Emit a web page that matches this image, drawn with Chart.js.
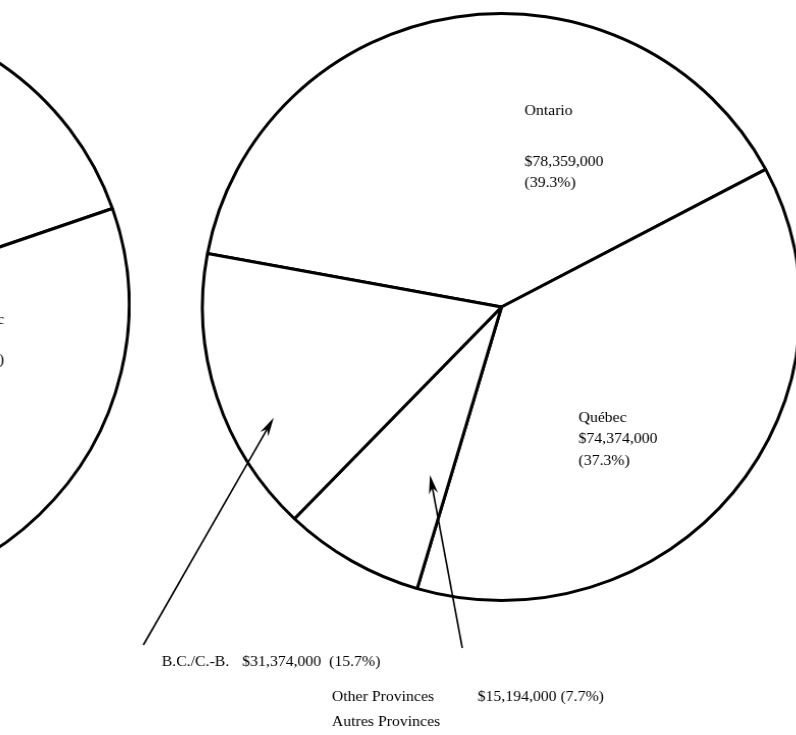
<!DOCTYPE html>
<html>
<head>
<meta charset="utf-8">
<script src="https://cdn.jsdelivr.net/npm/chart.js@4.4.1/dist/chart.umd.min.js"></script>
<style>
html,body{margin:0;padding:0;background:#fff;overflow:hidden}
#wrap{position:relative;width:796px;height:735px;overflow:hidden;background:#fff}
/* the scanned pies are a touch wider than tall */
#mainChart{position:absolute;left:3px;top:0;transform:scaleX(1.019);transform-origin:498px 0}
#leftChart{position:absolute;left:-465px;top:10px;transform:scaleX(1.019);transform-origin:295px 0}
</style>
</head>
<body>
<div id="wrap">
  <canvas id="leftChart" width="590" height="590"></canvas>
  <canvas id="mainChart" width="796" height="735"></canvas>
</div>
<script>
// slices, clockwise from the Ontario/B.C. edge
const categories = ['Ontario', 'Québec', 'Other Provinces', 'B.C./C.-B.'];
const amounts = [78359000, 74374000, 15194000, 31374000];
const percents = ['39.3%', '37.3%', '7.7%', '15.7%'];
// pie cut off by the left edge; only one edge shows, shares are a guess
const leftShares = [40, 36, 8, 16];

const FONT = '15.5px "Liberation Serif", "DejaVu Serif", serif';
const fmt = n => '$' + n.toLocaleString('en-US');

function $(id){return document.getElementById(id)}

function drawArrow(ctx, x0, y0, x1, y1){
  const ang = Math.atan2(y1 - y0, x1 - x0);
  const cx = Math.cos(ang), sy = Math.sin(ang);
  ctx.beginPath();
  ctx.moveTo(x0, y0);
  ctx.lineTo(x1 - cx * 10, y1 - sy * 10);
  ctx.stroke();
  // narrow head with a notch
  const len = 19, half = 4.5, notch = 13;
  ctx.beginPath();
  ctx.moveTo(x1, y1);
  ctx.lineTo(x1 - cx * len - sy * half, y1 - sy * len + cx * half);
  ctx.lineTo(x1 - cx * notch, y1 - sy * notch);
  ctx.lineTo(x1 - cx * len + sy * half, y1 - sy * len - cx * half);
  ctx.closePath();
  ctx.fill();
}

const callouts = {
  id: 'callouts',
  afterDatasetsDraw(chart, args, opts){
    const ctx = chart.ctx;
    const arcs = chart.getDatasetMeta(0).data;
    ctx.save();
    ctx.fillStyle = '#000';
    ctx.strokeStyle = '#000';
    ctx.font = FONT;
    ctx.textBaseline = 'middle';
    ctx.textAlign = opts.align || 'left';
    (opts.texts || []).forEach(t => ctx.fillText(t.text, t.x, t.y));
    ctx.lineWidth = 1.6;
    (opts.arrows || []).forEach(a => {
      const arc = arcs[a.index];
      const ang = arc.startAngle + (arc.endAngle - arc.startAngle) * a.t;
      const tx = arc.x + Math.cos(ang) * arc.outerRadius * a.r;
      const ty = arc.y + Math.sin(ang) * arc.outerRadius * a.r;
      drawArrow(ctx, a.x, a.y, tx, ty);
    });
    ctx.restore();
  }
};

document.addEventListener('DOMContentLoaded', () => {
  Chart.defaults.animation = false;

  new Chart($('mainChart'), {
    type: 'pie',
    data: {
      labels: categories,
      datasets: [{
        data: amounts,
        backgroundColor: '#fff',
        borderColor: '#000',
        borderWidth: 3
      }]
    },
    options: {
      responsive: false,
      devicePixelRatio: 1,
      rotation: 280.5,
      layout: {padding: {left: 203, right: 2, top: 12, bottom: 133}},
      plugins: {
        legend: {display: false},
        tooltip: {enabled: false},
        callouts: {
          texts: [
            {text: categories[0], x: 521, y: 111},
            {text: fmt(amounts[0]), x: 521, y: 162},
            {text: '(' + percents[0] + ')', x: 521, y: 183},
            {text: categories[1], x: 574, y: 418},
            {text: fmt(amounts[1]), x: 574, y: 439},
            {text: '(' + percents[1] + ')', x: 574, y: 461},
            {text: categories[3], x: 165, y: 662},
            {text: fmt(amounts[3]) + '  (' + percents[3] + ')', x: 244, y: 662},
            {text: categories[2], x: 332, y: 697},
            {text: fmt(amounts[2]) + ' (' + percents[2] + ')', x: 475, y: 697},
            {text: 'Autres Provinces', x: 332, y: 722}
          ],
          arrows: [
            {index: 3, t: 0.35, r: 0.85, x: 147, y: 645},
            {index: 2, t: 0.23, r: 0.62, x: 460, y: 648}
          ]
        }
      }
    },
    plugins: [callouts]
  });

  new Chart($('leftChart'), {
    type: 'pie',
    data: {
      labels: categories,
      datasets: [{
        data: leftShares,
        backgroundColor: '#fff',
        borderColor: '#000',
        borderWidth: 3
      }]
    },
    options: {
      responsive: false,
      devicePixelRatio: 1,
      rotation: -73.2,
      plugins: {
        legend: {display: false},
        tooltip: {enabled: false},
        callouts: {
          align: 'right',
          texts: [
            {text: 'Québec', x: 466, y: 310},
            {text: '%)', x: 466, y: 350}
          ]
        }
      }
    },
    plugins: [callouts]
  });
});
</script>
</body>
</html>
